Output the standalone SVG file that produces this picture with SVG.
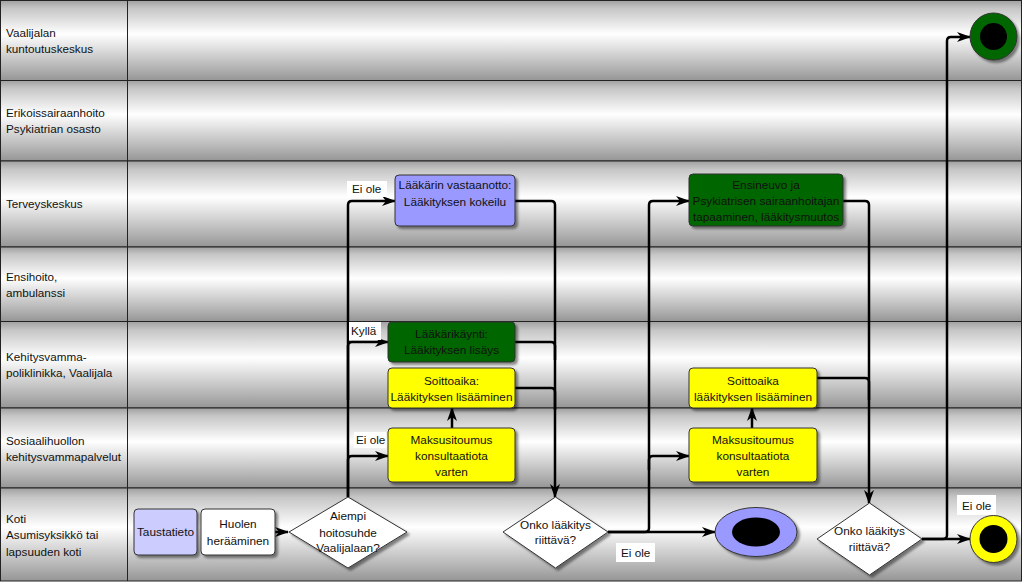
<svg xmlns="http://www.w3.org/2000/svg" width="1024" height="583" viewBox="0 0 1024 583">
<defs>
<linearGradient id="lane" x1="0" y1="0" x2="0" y2="1">
<stop offset="0" stop-color="#a0a0a0"/>
<stop offset="0.1" stop-color="#c6c6c6"/>
<stop offset="0.42" stop-color="#ffffff"/>
<stop offset="0.85" stop-color="#b2b2b2"/>
<stop offset="1" stop-color="#959595"/>
</linearGradient>
<filter id="sh" x="-20%" y="-20%" width="150%" height="150%">
<feDropShadow dx="2.5" dy="2.5" stdDeviation="1.2" flood-color="#000" flood-opacity="0.45"/>
</filter>
<marker id="arr" viewBox="0 0 14 10" refX="13" refY="5" markerWidth="14" markerHeight="10" markerUnits="userSpaceOnUse" orient="auto">
<path d="M0,0 L14,5 L0,10 L4,5 z" fill="#000"/>
</marker>
</defs>
<style>
.lane{fill:url(#lane);stroke:#222;stroke-width:1}
.lt{font-family:"Liberation Sans",Arial,sans-serif;font-size:11.7px;fill:#111}
.nt{font-family:"Liberation Sans",Arial,sans-serif;font-size:11.8px;fill:#111;text-anchor:middle}
.box{stroke:#333;stroke-width:1;filter:url(#sh)}
.con{fill:none;stroke:#000;stroke-width:2.5;stroke-linejoin:round}
.lbl{fill:#fff}
</style>
<rect x="0" y="0" width="1024" height="583" fill="#fff"/>
<g id="lanes">
<rect class="lane" x="0.5" y="0.5" width="1021" height="80"/>
<rect class="lane" x="0.5" y="80.5" width="1021" height="80.5"/>
<rect class="lane" x="0.5" y="161" width="1021" height="86"/>
<rect class="lane" x="0.5" y="247" width="1021" height="74.5"/>
<rect class="lane" x="0.5" y="321.5" width="1021" height="86.5"/>
<rect class="lane" x="0.5" y="408" width="1021" height="80"/>
<rect class="lane" x="0.5" y="488" width="1021" height="93"/>
<line x1="127.5" y1="0" x2="127.5" y2="581" stroke="#222" stroke-width="1"/>
<text class="lt" x="6" y="37">Vaalijalan</text>
<text class="lt" x="6" y="53">kuntoutuskeskus</text>
<text class="lt" x="6" y="117">Erikoissairaanhoito</text>
<text class="lt" x="6" y="133">Psykiatrian osasto</text>
<text class="lt" x="6" y="208">Terveyskeskus</text>
<text class="lt" x="6" y="281">Ensihoito,</text>
<text class="lt" x="6" y="297">ambulanssi</text>
<text class="lt" x="6" y="361">Kehitysvamma-</text>
<text class="lt" x="6" y="377">poliklinikka, Vaalijala</text>
<text class="lt" x="6" y="445">Sosiaalihuollon</text>
<text class="lt" x="6" y="461">kehitysvammapalvelut</text>
<text class="lt" x="6" y="523">Koti</text>
<text class="lt" x="6" y="539">Asumisyksikkö tai</text>
<text class="lt" x="6" y="556">lapsuuden koti</text>
</g>
<g id="connectors">
<path class="con" d="M275,532 H288" marker-end="url(#arr)"/>
<path class="con" d="M348,497 V205 Q348,201 352,201 H395" marker-end="url(#arr)"/>
<path class="con" d="M348,400 V346 Q348,342 352,342 H388" marker-end="url(#arr)"/>
<path class="con" d="M348,497 V460 Q348,456 352,456 H388" marker-end="url(#arr)"/>
<path class="con" d="M515,201 H551 Q555,201 555,205 V497" marker-end="url(#arr)"/>
<path class="con" d="M515,342 H551 Q555,342 555,346 V360"/>
<path class="con" d="M515,388 H551 Q555,388 555,392 V410"/>
<path class="con" d="M452,428 V408" marker-end="url(#arr)"/>
<path class="con" d="M608,532 H715" marker-end="url(#arr)"/>
<path class="con" d="M608,532 H645 Q649,532 649,528 V460 Q649,456 653,456 H689" marker-end="url(#arr)"/>
<path class="con" d="M649,470 V205 Q649,201 653,201 H689" marker-end="url(#arr)"/>
<path class="con" d="M752,428 V408" marker-end="url(#arr)"/>
<path class="con" d="M843,201 H865 Q869,201 869,205 V503" marker-end="url(#arr)"/>
<path class="con" d="M817,378 H865 Q869,378 869,382 V400"/>
<path class="con" d="M922,539 H970" marker-end="url(#arr)"/>
<path class="con" d="M922,539 H943 Q947,539 947,535 V41 Q947,37 951,37 H970" marker-end="url(#arr)"/>
<rect class="lbl" x="347" y="181" width="40" height="16"/>
<text class="lt" x="352" y="193">Ei ole</text>
<rect class="lbl" x="349" y="322" width="32" height="18"/>
<text class="lt" x="351" y="335">Kyllä</text>
<rect class="lbl" x="354" y="432" width="32" height="16"/>
<text class="lt" x="356" y="444">Ei ole</text>
<rect class="lbl" x="616" y="543" width="39" height="19"/>
<text class="lt" x="621" y="557">Ei ole</text>
<rect class="lbl" x="957" y="495" width="39" height="20"/>
<text class="lt" x="962" y="510">Ei ole</text>
</g>
<g id="taustatieto">
<rect class="box" x="134" y="509" width="63" height="46" rx="4" fill="#ccccff"/>
<text class="nt" x="165.5" y="536">Taustatieto</text>
</g>
<g id="huolen">
<rect class="box" x="201" y="509" width="74" height="46" rx="4" fill="#ffffff"/>
<text class="nt" x="238" y="528">Huolen</text>
<text class="nt" x="238" y="545">herääminen</text>
</g>
<g id="aiempi">
<polygon class="box" points="348,497 407,532 348,568 289,532" fill="#ffffff"/>
<text class="nt" x="348" y="520">Aiempi</text>
<text class="nt" x="348" y="537">hoitosuhde</text>
<text class="nt" x="348" y="552">Vaalijalaan?</text>
</g>
<g id="laakarin">
<rect class="box" x="395" y="175" width="120" height="51" rx="4" fill="#9999ff"/>
<text class="nt" x="455" y="189">Lääkärin vastaanotto:</text>
<text class="nt" x="455" y="206">Lääkityksen kokeilu</text>
</g>
<g id="laakarikaynti">
<rect class="box" x="388" y="322" width="127" height="40" rx="4" fill="#006600"/>
<text class="nt" x="451.5" y="338">Lääkärikäynti:</text>
<text class="nt" x="451.5" y="354">Lääkityksen lisäys</text>
</g>
<g id="soittoaika1">
<rect class="box" x="388" y="368" width="127" height="40" rx="4" fill="#ffff00"/>
<text class="nt" x="451.5" y="385">Soittoaika:</text>
<text class="nt" x="451.5" y="401">Lääkityksen lisääminen</text>
</g>
<g id="maksu1">
<rect class="box" x="388" y="428" width="127" height="54" rx="4" fill="#ffff00"/>
<text class="nt" x="451.5" y="444">Maksusitoumus</text>
<text class="nt" x="451.5" y="460">konsultaatiota</text>
<text class="nt" x="451.5" y="476">varten</text>
</g>
<g id="onko1">
<polygon class="box" points="555.5,497 608,532 555.5,568 503,532" fill="#ffffff"/>
<text class="nt" x="555.5" y="529">Onko lääkitys</text>
<text class="nt" x="555.5" y="544">riittävä?</text>
</g>
<g id="end1">
<ellipse class="box" cx="756" cy="532" rx="41" ry="24.5" fill="#9999ff"/>
<ellipse cx="756" cy="532" rx="24" ry="14.5" fill="#000"/>
</g>
<g id="ensineuvo">
<rect class="box" x="689" y="174" width="154" height="52" rx="4" fill="#006600"/>
<text class="nt" x="766" y="189">Ensineuvo ja</text>
<text class="nt" x="766" y="205">Psykiatrisen sairaanhoitajan</text>
<text class="nt" x="766" y="221">tapaaminen, lääkitysmuutos</text>
</g>
<g id="soittoaika2">
<rect class="box" x="689" y="368" width="128" height="40" rx="4" fill="#ffff00"/>
<text class="nt" x="753" y="385">Soittoaika</text>
<text class="nt" x="753" y="401">lääkityksen lisääminen</text>
</g>
<g id="maksu2">
<rect class="box" x="689" y="428" width="128" height="54" rx="4" fill="#ffff00"/>
<text class="nt" x="753" y="444">Maksusitoumus</text>
<text class="nt" x="753" y="460">konsultaatiota</text>
<text class="nt" x="753" y="476">varten</text>
</g>
<g id="onko2">
<polygon class="box" points="869.5,503 922,539 869.5,575 817,539" fill="#ffffff"/>
<text class="nt" x="869.5" y="535">Onko lääkitys</text>
<text class="nt" x="869.5" y="551">riittävä?</text>
</g>
<g id="end-yellow">
<circle class="box" cx="993.5" cy="539" r="23.5" fill="#ffff00"/>
<circle cx="993.5" cy="539" r="14" fill="#000"/>
</g>
<g id="end-green">
<circle class="box" cx="993.5" cy="36.5" r="23.5" fill="#006600"/>
<circle cx="993.5" cy="36.5" r="13.5" fill="#000"/>
</g>
</svg>
